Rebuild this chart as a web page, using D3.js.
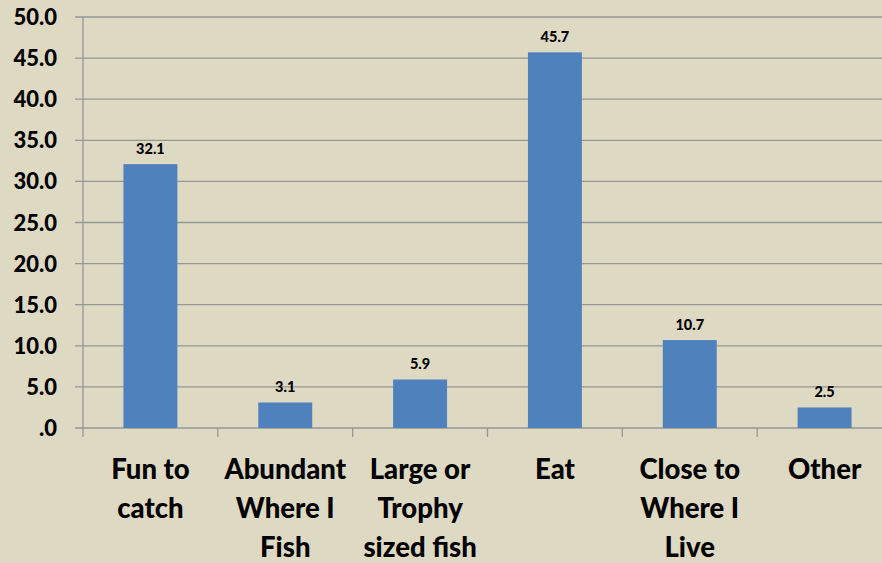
<!DOCTYPE html>
<html><head><meta charset="utf-8">
<script src="https://cdn.jsdelivr.net/npm/d3@7"></script>
<style>html,body{margin:0;padding:0;background:#ddd9c3;}svg{display:block;}</style>
</head><body>
<svg id="c" width="882" height="563"></svg>
<script>
const categories = [["Fun to","catch"],["Abundant","Where I","Fish"],["Large or","Trophy","sized fish"],["Eat"],["Close to","Where I","Live"],["Other"]];
const values = [32.1, 3.1, 5.9, 45.7, 10.7, 2.5];
const yTicks = [0,5,10,15,20,25,30,35,40,45,50];
const yTickLabels = [".0","5.0","10.0","15.0","20.0","25.0","30.0","35.0","40.0","45.0","50.0"];

const svg = d3.select("#c");
const W = 882, H = 563;
const x0 = 83, x1 = 892, yTop = 17, yBot = 428;
const font = "Lato, 'Open Sans', sans-serif";
const gridColor = "#969696";

svg.append("rect").attr("width",W).attr("height",H).attr("fill","#ddd9c3");

const x = d3.scaleBand().domain(d3.range(categories.length)).range([x0,x1]).paddingInner(0.6).paddingOuter(0.3);
const xs = d3.scaleBand().domain(d3.range(categories.length)).range([x0,x1]);
const y = d3.scaleLinear().domain([0,50]).range([yBot,yTop]);

svg.append("g").selectAll("line").data(yTicks).join("line")
  .attr("x1",75).attr("x2",W).attr("y1",d=>y(d)).attr("y2",d=>y(d))
  .attr("stroke",gridColor).attr("stroke-width",1.3);

svg.append("line").attr("x1",x0).attr("x2",x0).attr("y1",yTop).attr("y2",437)
  .attr("stroke",gridColor).attr("stroke-width",1.3);

svg.append("g").selectAll("line").data(d3.range(1,categories.length)).join("line")
  .attr("x1",d=>xs(d)).attr("x2",d=>xs(d)).attr("y1",yBot).attr("y2",437)
  .attr("stroke",gridColor).attr("stroke-width",1.3);

svg.append("g").selectAll("text").data(yTicks).join("text")
  .attr("x",57).attr("y",(d)=>y(d)+8).attr("text-anchor","end")
  .attr("font-family",font).attr("font-weight",900).attr("font-size",22).attr("fill","#000")
  .text((d,i)=>yTickLabels[i]);

svg.append("g").selectAll("rect").data(values).join("rect")
  .attr("x",(d,i)=>x(i)).attr("width",x.bandwidth())
  .attr("y",d=>y(d)).attr("height",d=>yBot-y(d)).attr("fill","#4f81bd");

svg.append("g").selectAll("text").data(values).join("text")
  .attr("x",(d,i)=>x(i)+x.bandwidth()/2).attr("y",d=>y(d)-10.5).attr("text-anchor","middle")
  .attr("font-family",font).attr("font-weight",900).attr("font-size",14.5).attr("fill","#000")
  .text(d=>d.toFixed(1));

const cg = svg.append("g").selectAll("text").data(categories).join("text")
  .attr("text-anchor","middle").attr("font-family",font).attr("font-weight",900)
  .attr("font-size",27.5).attr("fill","#000");
cg.each(function(lines,i){
  const t = d3.select(this);
  lines.forEach((ln,j)=>{
    t.append("tspan").attr("x",xs(i)+xs.bandwidth()/2).attr("y",479+j*39).text(ln);
  });
});
</script>
</body></html>
